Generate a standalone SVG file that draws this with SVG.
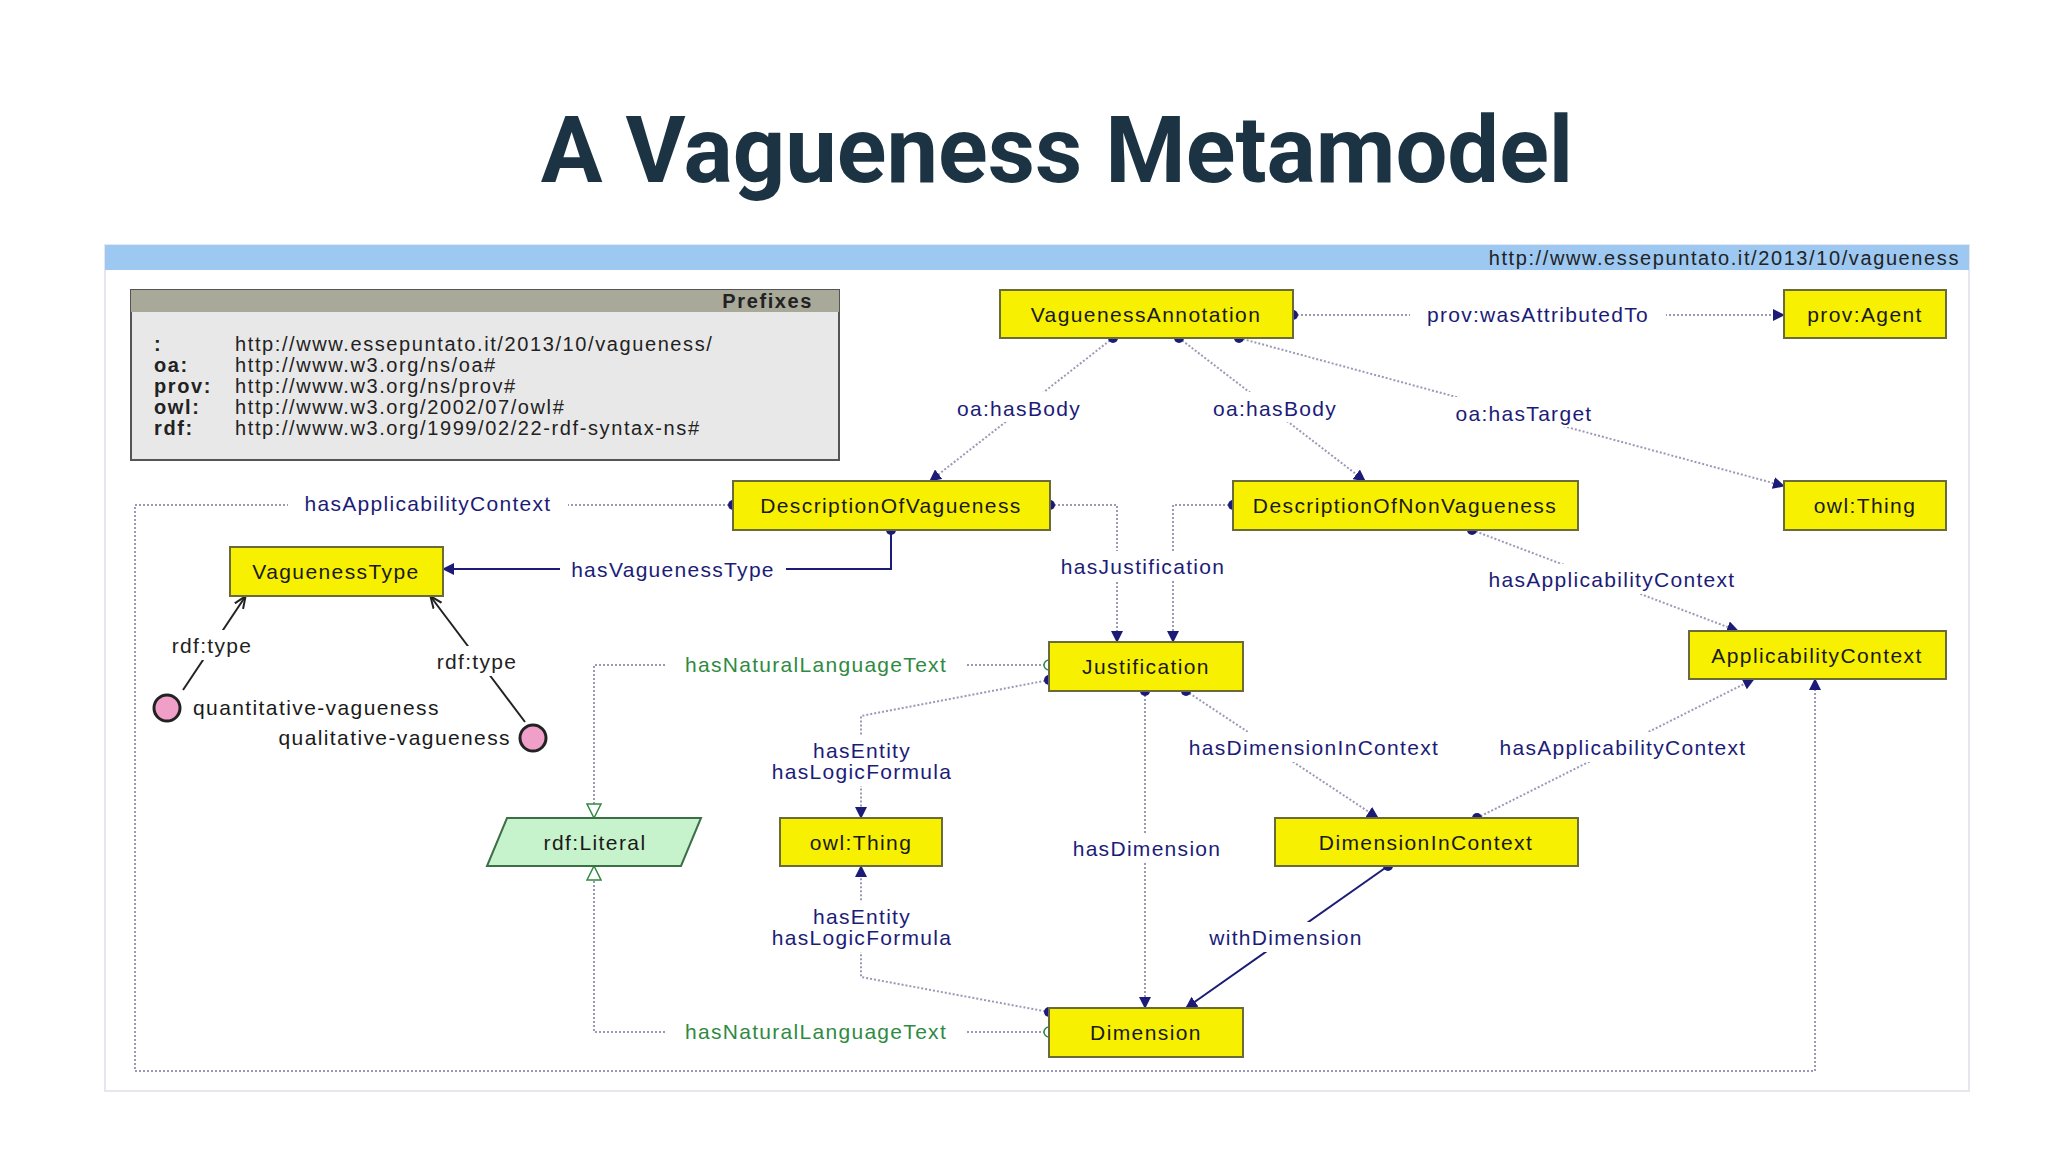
<svg xmlns="http://www.w3.org/2000/svg" width="2048" height="1152" viewBox="0 0 2048 1152">
<defs>
<style>
.n rect{fill:#f7f000;stroke:#6b6b3a;stroke-width:2}
.t{font-family:"Liberation Sans",Arial,sans-serif;font-size:21px;letter-spacing:1.4px;fill:#1a1a1a;text-anchor:middle}
.l{font-family:"Liberation Sans",Arial,sans-serif;font-size:21px;letter-spacing:1.3px;fill:#1c1c78;text-anchor:middle}
.g{fill:#2f8a42}
.k{fill:#222}
.d{fill:none;stroke:#9a9ab8;stroke-width:2;stroke-dasharray:2 2}
.s{fill:none;stroke:#1c1c78;stroke-width:2}
.b{fill:none;stroke:#222;stroke-width:2}
.dot{fill:#1c1c78}
.p{font-family:"Liberation Sans",Arial,sans-serif;font-size:20px;letter-spacing:1.6px;fill:#222}
</style>
<marker id="a" markerWidth="12" markerHeight="12" refX="11" refY="6" orient="auto" markerUnits="userSpaceOnUse"><path d="M0,0L12,6L0,12z" fill="#1c1c78"/></marker>
<marker id="ak" markerWidth="12" markerHeight="12" refX="11" refY="6" orient="auto" markerUnits="userSpaceOnUse"><path d="M0,1L12,6L0,11" fill="none" stroke="#222" stroke-width="2"/></marker>
<marker id="o" markerWidth="16" markerHeight="16" refX="15" refY="8" orient="auto" markerUnits="userSpaceOnUse"><path d="M1,1L15,8L1,15z" fill="#fff" stroke="#2f8a42" stroke-width="1.5"/></marker>
</defs>
<rect width="2048" height="1152" fill="#fff"/>
<text x="1057" y="182" font-family="Roboto,'Liberation Sans',sans-serif" font-weight="bold" font-size="92" fill="#1b3342" text-anchor="middle">A Vagueness Metamodel</text>
<rect x="105" y="245" width="1864" height="846" fill="#fff" stroke="#e6e6ee" stroke-width="2"/>
<rect x="105" y="245" width="1864" height="25" fill="#9cc8f2"/>
<text x="1960" y="265" class="p" text-anchor="end">http://www.essepuntato.it/2013/10/vagueness</text>
<g id="prefixes">
<rect x="131" y="290" width="708" height="170" fill="#e8e8e8" stroke="#555" stroke-width="2"/>
<rect x="131" y="290" width="708" height="22" fill="#a9a99a"/>
<text x="813" y="308" class="p" font-weight="bold" text-anchor="end" font-size="18">Prefixes</text>
<g class="p"><text x="154" y="351" font-weight="bold">:</text><text x="154" y="372" font-weight="bold">oa:</text><text x="154" y="393" font-weight="bold">prov:</text><text x="154" y="414" font-weight="bold">owl:</text><text x="154" y="435" font-weight="bold">rdf:</text>
<text x="235" y="351">http://www.essepuntato.it/2013/10/vagueness/</text><text x="235" y="372">http://www.w3.org/ns/oa#</text><text x="235" y="393">http://www.w3.org/ns/prov#</text><text x="235" y="414">http://www.w3.org/2002/07/owl#</text><text x="235" y="435">http://www.w3.org/1999/02/22-rdf-syntax-ns#</text></g>
</g>
<g id="connectors">
<path class="d" d="M1293,315H1784" marker-end="url(#a)"/>
<path class="d" d="M1113,338L930,481" marker-end="url(#a)"/>
<path class="d" d="M1179,338L1365,481" marker-end="url(#a)"/>
<path class="d" d="M1239,338L1784,486" marker-end="url(#a)"/>
<path class="d" d="M733,505H135V1071H1815V679" marker-end="url(#a)"/>
<path class="s" d="M891,530V569H443" marker-end="url(#a)"/>
<path class="b" d="M183,690L245,597" marker-end="url(#ak)"/>
<path class="b" d="M525,722L431,597" marker-end="url(#ak)"/>
<path class="d" d="M1050,505H1117V642" marker-end="url(#a)"/>
<path class="d" d="M1233,505H1173V642" marker-end="url(#a)"/>
<path class="d" d="M1472,530L1738,631" marker-end="url(#a)"/>
<path class="d" d="M1049,665H594V818" marker-end="url(#o)"/>
<path class="d" d="M1049,1032H594V866" marker-end="url(#o)"/>
<path class="d" d="M1049,680L861,716V818" marker-end="url(#a)"/>
<path class="d" d="M1049,1012L861,977V866" marker-end="url(#a)"/>
<path class="d" d="M1145,691V1008" marker-end="url(#a)"/>
<path class="d" d="M1186,691L1378,818" marker-end="url(#a)"/>
<path class="d" d="M1477,818L1754,679" marker-end="url(#a)"/>
<path class="s" d="M1388,866L1186,1008" marker-end="url(#a)"/>
<g class="dot"><circle cx="1293" cy="315" r="5"/><circle cx="1113" cy="338" r="5"/><circle cx="1179" cy="338" r="5"/><circle cx="1239" cy="338" r="5"/><circle cx="733" cy="505" r="5"/><circle cx="1050" cy="505" r="5"/><circle cx="891" cy="530" r="5"/><circle cx="1233" cy="505" r="5"/><circle cx="1472" cy="530" r="5"/><circle cx="1049" cy="680" r="5"/><circle cx="1145" cy="691" r="5"/><circle cx="1186" cy="691" r="5"/><circle cx="1477" cy="818" r="5"/><circle cx="1388" cy="866" r="5"/><circle cx="1049" cy="1012" r="5"/></g>
<circle cx="1049" cy="665" r="5" fill="#fff" stroke="#2f8a42" stroke-width="1.5"/>
<circle cx="1049" cy="1032" r="5" fill="#fff" stroke="#2f8a42" stroke-width="1.5"/>
<g class="l">
<rect x="1410" y="298" width="256" height="30" fill="#fff"/><text x="1538" y="322">prov:wasAttributedTo</text>
<rect x="950" y="392" width="138" height="30" fill="#fff"/><text x="1019" y="416">oa:hasBody</text>
<rect x="1206" y="392" width="138" height="30" fill="#fff"/><text x="1275" y="416">oa:hasBody</text>
<rect x="1446" y="397" width="156" height="30" fill="#fff"/><text x="1524" y="421">oa:hasTarget</text>
<rect x="288" y="488" width="280" height="30" fill="#fff"/><text x="428" y="511">hasApplicabilityContext</text>
<rect x="560" y="554" width="226" height="30" fill="#fff"/><text x="673" y="577">hasVaguenessType</text>
<rect x="1052" y="551" width="182" height="30" fill="#fff"/><text x="1143" y="574">hasJustification</text>
<rect x="1472" y="564" width="280" height="30" fill="#fff"/><text x="1612" y="587">hasApplicabilityContext</text>
<rect x="1176" y="732" width="276" height="30" fill="#fff"/><text x="1314" y="755">hasDimensionInContext</text>
<rect x="1483" y="732" width="280" height="30" fill="#fff"/><text x="1623" y="755">hasApplicabilityContext</text>
<rect x="1062" y="833" width="170" height="30" fill="#fff"/><text x="1147" y="856">hasDimension</text>
<rect x="1200" y="922" width="172" height="30" fill="#fff"/><text x="1286" y="945">withDimension</text>
<rect x="760" y="736" width="204" height="50" fill="#fff"/><text x="862" y="758">hasEntity</text><text x="862" y="779">hasLogicFormula</text>
<rect x="760" y="902" width="204" height="50" fill="#fff"/><text x="862" y="924">hasEntity</text><text x="862" y="945">hasLogicFormula</text>
<rect x="666" y="649" width="300" height="30" fill="#fff"/><text x="816" y="672" class="g">hasNaturalLanguageText</text>
<rect x="666" y="1016" width="300" height="30" fill="#fff"/><text x="816" y="1039" class="g">hasNaturalLanguageText</text>
<rect x="164" y="630" width="96" height="30" fill="#fff"/><text x="212" y="653" class="k">rdf:type</text>
<rect x="429" y="646" width="96" height="30" fill="#fff"/><text x="477" y="669" class="k">rdf:type</text>
</g>
</g>
<g id="VaguenessAnnotation" class="n"><rect x="1000" y="290" width="293" height="48"/><text class="t" x="1146" y="322">VaguenessAnnotation</text></g>
<g id="provAgent" class="n"><rect x="1784" y="290" width="162" height="48"/><text class="t" x="1865" y="322">prov:Agent</text></g>
<g id="DescriptionOfVagueness" class="n"><rect x="733" y="481" width="317" height="49"/><text class="t" x="891" y="513">DescriptionOfVagueness</text></g>
<g id="DescriptionOfNonVagueness" class="n"><rect x="1233" y="481" width="345" height="49"/><text class="t" x="1405" y="513">DescriptionOfNonVagueness</text></g>
<g id="owlThingTop" class="n"><rect x="1784" y="481" width="162" height="49"/><text class="t" x="1865" y="513">owl:Thing</text></g>
<g id="VaguenessType" class="n"><rect x="230" y="547" width="213" height="49"/><text class="t" x="336" y="579">VaguenessType</text></g>
<g id="Justification" class="n"><rect x="1049" y="642" width="194" height="49"/><text class="t" x="1146" y="674">Justification</text></g>
<g id="ApplicabilityContext" class="n"><rect x="1689" y="631" width="257" height="48"/><text class="t" x="1817" y="663">ApplicabilityContext</text></g>
<g id="rdfLiteral"><path d="M507,818H701L681,866H487z" fill="#c6f2cc" stroke="#3c6e48" stroke-width="2"/><text class="t" x="595" y="850">rdf:Literal</text></g>
<g id="owlThingMid" class="n"><rect x="780" y="818" width="162" height="48"/><text class="t" x="861" y="850">owl:Thing</text></g>
<g id="DimensionInContext" class="n"><rect x="1275" y="818" width="303" height="48"/><text class="t" x="1426" y="850">DimensionInContext</text></g>
<g id="Dimension" class="n"><rect x="1049" y="1008" width="194" height="49"/><text class="t" x="1146" y="1040">Dimension</text></g>
<g id="quantitative"><circle cx="167" cy="708" r="13" fill="#f0a0c8" stroke="#222" stroke-width="3"/><text class="t" x="193" y="715" style="text-anchor:start">quantitative-vagueness</text></g>
<g id="qualitative"><circle cx="533" cy="738" r="13" fill="#f0a0c8" stroke="#222" stroke-width="3"/><text class="t" x="511" y="745" style="text-anchor:end">qualitative-vagueness</text></g>
</svg>
